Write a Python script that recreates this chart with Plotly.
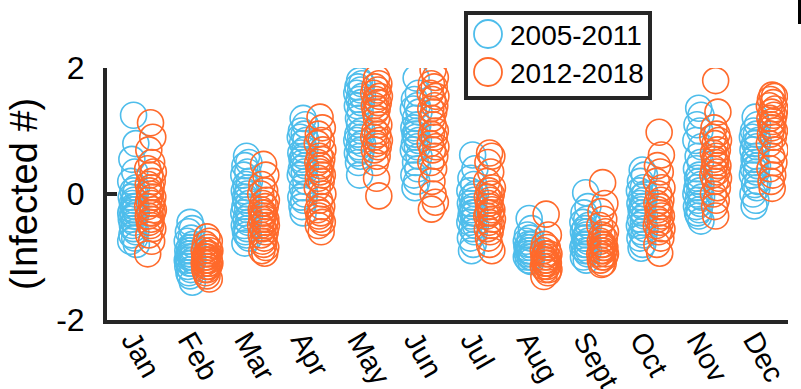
import plotly.graph_objects as go

months = ["Jan", "Feb", "Mar", "Apr", "May", "Jun", "Jul", "Aug", "Sept", "Oct", "Nov", "Dec"]
series_names = ["2005-2011", "2012-2018"]
y_tick_values = [-2, 0, 2]
y_title = "(Infected #)"

values_2005_2011 = [
    [1.25, 0.8, 0.55, 0.35, 0.2, 0.1, 0.05, 0.0, -0.05, -0.1, -0.15, -0.2, -0.2, -0.25, -0.25, -0.3, -0.3, -0.35, -0.35, -0.4, -0.45, -0.5, -0.55, -0.6, -0.65, -0.7, -0.75, -0.8],
    [-0.45, -0.55, -0.6, -0.7, -0.75, -0.8, -0.85, -0.85, -0.9, -0.9, -0.95, -0.95, -1.0, -1.0, -1.0, -1.05, -1.05, -1.1, -1.1, -1.15, -1.2, -1.25, -1.3, -1.4],
    [0.6, 0.5, 0.45, 0.35, 0.3, 0.2, 0.15, 0.1, 0.05, 0.0, -0.05, -0.1, -0.15, -0.2, -0.25, -0.3, -0.35, -0.4, -0.45, -0.5, -0.55, -0.6, -0.65, -0.7, -0.78],
    [1.2, 1.1, 1.0, 0.95, 0.9, 0.85, 0.8, 0.7, 0.65, 0.6, 0.55, 0.5, 0.45, 0.4, 0.35, 0.3, 0.2, 0.1, 0.0, -0.05, -0.1, -0.2, -0.3],
    [1.8, 1.75, 1.7, 1.65, 1.6, 1.55, 1.5, 1.45, 1.4, 1.3, 1.2, 1.1, 1.0, 0.95, 0.9, 0.85, 0.8, 0.75, 0.7, 0.65, 0.6, 0.5, 0.3],
    [1.84, 1.6, 1.5, 1.4, 1.35, 1.3, 1.2, 1.1, 1.05, 1.0, 0.95, 0.9, 0.85, 0.8, 0.75, 0.7, 0.6, 0.5, 0.4, 0.3, 0.2, 0.1],
    [0.62, 0.4, 0.25, 0.15, 0.05, 0.0, -0.05, -0.1, -0.15, -0.2, -0.25, -0.3, -0.3, -0.35, -0.4, -0.45, -0.5, -0.55, -0.6, -0.7, -0.8, -0.9],
    [-0.39, -0.55, -0.65, -0.7, -0.75, -0.8, -0.8, -0.85, -0.85, -0.9, -0.9, -0.9, -0.95, -0.95, -1.0, -1.0, -1.0, -1.05, -1.07],
    [0.02, -0.2, -0.3, -0.4, -0.45, -0.5, -0.55, -0.6, -0.6, -0.65, -0.7, -0.7, -0.75, -0.8, -0.8, -0.85, -0.9, -0.9, -0.95, -1.0, -1.05],
    [0.38, 0.3, 0.2, 0.1, 0.05, 0.0, -0.05, -0.1, -0.15, -0.2, -0.25, -0.3, -0.35, -0.4, -0.45, -0.5, -0.55, -0.6, -0.65, -0.7, -0.8, -0.86],
    [1.36, 1.25, 1.1, 1.0, 0.85, 0.75, 0.6, 0.5, 0.4, 0.3, 0.25, 0.2, 0.15, 0.1, 0.05, 0.0, -0.05, -0.1, -0.15, -0.2, -0.25, -0.3, -0.35, -0.43],
    [1.22, 1.1, 1.0, 0.95, 0.9, 0.85, 0.8, 0.75, 0.7, 0.6, 0.55, 0.5, 0.45, 0.4, 0.35, 0.3, 0.2, 0.15, 0.1, 0.0, -0.1, -0.19],
]

values_2012_2018 = [
    [1.13, 0.9, 0.7, 0.5, 0.4, 0.35, 0.3, 0.2, 0.15, 0.1, 0.05, 0.0, -0.05, -0.1, -0.15, -0.2, -0.25, -0.3, -0.3, -0.35, -0.4, -0.45, -0.5, -0.55, -0.65, -0.75, -0.95],
    [-0.68, -0.75, -0.8, -0.85, -0.9, -0.9, -0.95, -0.95, -1.0, -1.0, -1.0, -1.05, -1.05, -1.05, -1.1, -1.1, -1.1, -1.15, -1.15, -1.2, -1.2, -1.25, -1.3, -1.35],
    [0.47, 0.3, 0.15, 0.05, 0.0, -0.1, -0.15, -0.2, -0.25, -0.3, -0.3, -0.35, -0.4, -0.4, -0.45, -0.5, -0.5, -0.55, -0.6, -0.65, -0.7, -0.75, -0.8, -0.85, -0.9, -0.94],
    [1.22, 1.05, 0.95, 0.85, 0.8, 0.7, 0.6, 0.55, 0.5, 0.45, 0.4, 0.35, 0.3, 0.25, 0.2, 0.1, 0.0, -0.1, -0.2, -0.25, -0.3, -0.35, -0.4, -0.45, -0.5, -0.6],
    [1.84, 1.75, 1.7, 1.65, 1.6, 1.55, 1.5, 1.45, 1.4, 1.35, 1.3, 1.2, 1.1, 1.0, 0.95, 0.9, 0.85, 0.8, 0.75, 0.7, 0.6, 0.5, 0.25, -0.03],
    [1.97, 1.85, 1.75, 1.7, 1.6, 1.55, 1.5, 1.4, 1.35, 1.3, 1.2, 1.1, 1.0, 0.95, 0.9, 0.8, 0.75, 0.7, 0.6, 0.5, 0.4, 0.2, 0.0, -0.13, -0.24],
    [0.65, 0.6, 0.5, 0.35, 0.2, 0.1, 0.05, 0.0, -0.05, -0.1, -0.15, -0.2, -0.25, -0.3, -0.3, -0.35, -0.4, -0.45, -0.5, -0.55, -0.6, -0.7, -0.8, -0.9],
    [-0.32, -0.65, -0.8, -0.85, -0.9, -0.95, -0.95, -1.0, -1.0, -1.05, -1.05, -1.1, -1.1, -1.1, -1.15, -1.15, -1.2, -1.2, -1.25, -1.31],
    [0.18, -0.15, -0.28, -0.4, -0.5, -0.6, -0.65, -0.7, -0.75, -0.8, -0.8, -0.85, -0.85, -0.9, -0.9, -0.95, -0.95, -1.0, -1.0, -1.05, -1.1, -1.12],
    [0.98, 0.62, 0.45, 0.35, 0.2, 0.1, 0.0, -0.1, -0.15, -0.2, -0.25, -0.3, -0.35, -0.4, -0.45, -0.5, -0.55, -0.6, -0.7, -0.8, -0.94],
    [1.8, 1.3, 1.05, 0.95, 0.9, 0.85, 0.8, 0.7, 0.65, 0.6, 0.55, 0.5, 0.45, 0.4, 0.35, 0.3, 0.25, 0.2, 0.1, 0.0, -0.1, -0.2, -0.35],
    [1.57, 1.55, 1.5, 1.45, 1.4, 1.35, 1.3, 1.25, 1.2, 1.15, 1.1, 1.05, 1.0, 0.95, 0.9, 0.8, 0.7, 0.6, 0.5, 0.4, 0.3, 0.2, 0.09],
]

colors = ["#4EBDEB", "#FF6A2B"]
axis_color = "#262626"
FONT = "Liberation Sans, Arial, Helvetica, sans-serif"

group_offsets = [-0.15, 0.15]
jitter_pattern = [0.0, 0.04, -0.03, 0.02, -0.05, 0.05, -0.01, 0.03, -0.04, 0.01, -0.02]

fig = go.Figure()
for s, (name, vals) in enumerate(zip(series_names, [values_2005_2011, values_2012_2018])):
    xs, ys = [], []
    for i, month_vals in enumerate(vals):
        for k, v in enumerate(month_vals):
            xs.append(i + 1 + group_offsets[s] + jitter_pattern[k % len(jitter_pattern)])
            ys.append(v)
    fig.add_trace(go.Scatter(
        x=xs, y=ys, mode="markers", name=name, showlegend=False,
        marker=dict(symbol="circle-open", size=26, color=colors[s],
                    line=dict(width=1.6, color=colors[s])),
    ))

# Legend drawn as a box with circle markers and text
x_px = lambda px: (px - 107) / 681
y_px = lambda py: (320 - py) / 252
shapes = [
    dict(type="rect", xref="paper", yref="paper", x0=x_px(466), x1=x_px(650),
         y0=y_px(13), y1=y_px(98), line=dict(color=axis_color, width=4), fillcolor="white"),
    dict(type="rect", xref="paper", yref="paper", x0=x_px(798), x1=x_px(806),
         y0=y_px(-5), y1=y_px(24), line=dict(width=0), fillcolor="black"),
]
annotations = []
for s, name in enumerate(series_names):
    cy = 34 + s * 38
    shapes.append(dict(type="circle", xref="paper", yref="paper",
                       xsizemode="pixel", ysizemode="pixel",
                       xanchor=x_px(488), yanchor=y_px(cy),
                       x0=-14, x1=14, y0=-14, y1=14,
                       line=dict(color=colors[s], width=1.8)))
    annotations.append(dict(text=name, xref="paper", yref="paper",
                            x=x_px(508), y=y_px(cy + 1), xanchor="left", yanchor="middle",
                            showarrow=False, font=dict(size=28, color="black", family=FONT)))

fig.update_layout(
    width=801, height=389,
    margin=dict(l=107, r=13, t=68, b=69, pad=0),
    plot_bgcolor="white", paper_bgcolor="white",
    font=dict(family=FONT, color="black"),
    shapes=shapes, annotations=annotations,
    xaxis=dict(range=[0.38, 12.43], tickmode="array", tickvals=list(range(1, 13)),
               ticktext=months, tickangle=60, ticks="", showline=True,
               linewidth=4, linecolor=axis_color, showgrid=False, zeroline=False,
               automargin=False, ticklabelshift=-9, ticklabelstandoff=-12,
               tickfont=dict(size=29, color="black")),
    yaxis=dict(range=[-2, 2], tickmode="array", tickvals=y_tick_values,
               ticktext=[str(v) for v in y_tick_values],
               ticks="inside", ticklen=10, tickwidth=4, tickcolor=axis_color,
               showline=True, linewidth=4, linecolor=axis_color,
               showgrid=False, zeroline=False, automargin=False,
               tickfont=dict(size=32, color="black"), ticklabelstandoff=12,
               title=dict(text=y_title, font=dict(size=38, color="black"), standoff=8)),
)

fig.write_html("out.html", config={"displayModeBar": False},
               post_script="document.body.style.margin='0px';")
